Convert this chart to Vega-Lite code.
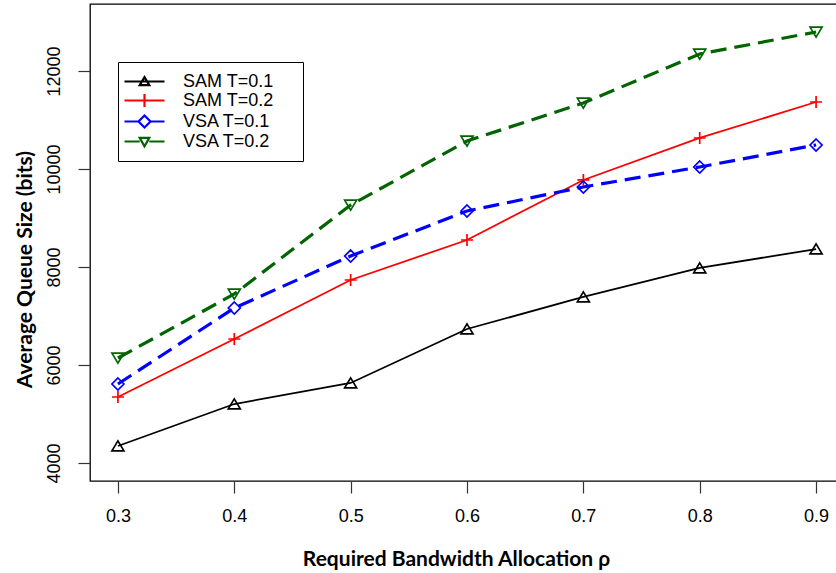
{
  "$schema": "https://vega.github.io/schema/vega-lite/v6.json",
  "autosize": {"type": "none"},
  "padding": {"left": 90, "top": 4, "right": 0, "bottom": 92},
  "width": 754,
  "height": 477,
  "background": "white",
  "config": {
    "view": {"stroke": "#000000", "strokeWidth": 1.3},
    "font": "Liberation Sans"
  },
  "data": {
    "values": [
      {"rho": 0.3, "q": 4347, "series": "SAM T=0.1"},
      {"rho": 0.4, "q": 5204, "series": "SAM T=0.1"},
      {"rho": 0.5, "q": 5633, "series": "SAM T=0.1"},
      {"rho": 0.6, "q": 6735, "series": "SAM T=0.1"},
      {"rho": 0.7, "q": 7388, "series": "SAM T=0.1"},
      {"rho": 0.8, "q": 7980, "series": "SAM T=0.1"},
      {"rho": 0.9, "q": 8367, "series": "SAM T=0.1"},
      {"rho": 0.3, "q": 5347, "series": "SAM T=0.2"},
      {"rho": 0.4, "q": 6531, "series": "SAM T=0.2"},
      {"rho": 0.5, "q": 7735, "series": "SAM T=0.2"},
      {"rho": 0.6, "q": 8551, "series": "SAM T=0.2"},
      {"rho": 0.7, "q": 9776, "series": "SAM T=0.2"},
      {"rho": 0.8, "q": 10633, "series": "SAM T=0.2"},
      {"rho": 0.9, "q": 11367, "series": "SAM T=0.2"},
      {"rho": 0.3, "q": 5612, "series": "VSA T=0.1"},
      {"rho": 0.4, "q": 7163, "series": "VSA T=0.1"},
      {"rho": 0.5, "q": 8224, "series": "VSA T=0.1"},
      {"rho": 0.6, "q": 9143, "series": "VSA T=0.1"},
      {"rho": 0.7, "q": 9633, "series": "VSA T=0.1"},
      {"rho": 0.8, "q": 10041, "series": "VSA T=0.1"},
      {"rho": 0.9, "q": 10490, "series": "VSA T=0.1"},
      {"rho": 0.3, "q": 6143, "series": "VSA T=0.2"},
      {"rho": 0.4, "q": 7449, "series": "VSA T=0.2"},
      {"rho": 0.5, "q": 9265, "series": "VSA T=0.2"},
      {"rho": 0.6, "q": 10571, "series": "VSA T=0.2"},
      {"rho": 0.7, "q": 11347, "series": "VSA T=0.2"},
      {"rho": 0.8, "q": 12347, "series": "VSA T=0.2"},
      {"rho": 0.9, "q": 12796, "series": "VSA T=0.2"}
    ]
  },
  "encoding": {
    "x": {
      "field": "rho", "type": "quantitative",
      "scale": {"domain": [0.276, 0.924], "nice": false, "zero": false},
      "axis": {
        "values": [0.3, 0.4, 0.5, 0.6, 0.7, 0.8, 0.9], "format": ".1f",
        "domain": false, "grid": false, "tickSize": 12, "tickColor": "#333333", "tickWidth": 1.2,
        "labelFontSize": 18, "labelColor": "#000000", "labelPadding": 14, "labelFont": "Liberation Sans",
        "title": "Required Bandwidth Allocation ρ", "titleFont": "Lato", "titleFontSize": 21, "titleFontWeight": "bold",
        "titleColor": "#000000", "titleX": 366, "titleY": 84, "titleBaseline": "alphabetic", "titleAlign": "center"
      }
    },
    "y": {
      "field": "q", "type": "quantitative",
      "scale": {"domain": [3633, 13367], "nice": false, "zero": false},
      "axis": {
        "values": [4000, 6000, 8000, 10000, 12000], "format": "d",
        "domain": false, "grid": false, "tickSize": 12, "tickColor": "#333333", "tickWidth": 1.2,
        "labelFontSize": 18, "labelColor": "#000000", "labelAngle": -90, "labelPadding": 15, "labelFont": "Liberation Sans",
        "title": "Average Queue Size (bits)", "titleFont": "Lato", "titleFontSize": 21, "titleFontWeight": "bold",
        "titleColor": "#000000", "titleX": -65, "titleY": 265, "titleBaseline": "middle", "titleAlign": "center", "titleAngle": -90
      }
    },
    "color": {
      "field": "series", "type": "nominal",
      "scale": {"domain": ["SAM T=0.1", "SAM T=0.2", "VSA T=0.1", "VSA T=0.2"], "range": ["#000000", "#FF0000", "#0000FF", "#006400"]},
      "legend": {
        "title": "M", "titleOrient": "right", "titleOpacity": 0, "titleFontSize": 18, "titlePadding": 4,
        "orient": "none", "legendX": 28, "legendY": 58,
        "strokeColor": "#000000", "fillColor": "#FFFFFF", "padding": 10,
        "symbolSize": 256, "symbolOffset": 7, "symbolStrokeWidth": 2.2, "symbolOpacity": 1,
        "labelFontSize": 18, "labelFont": "Liberation Sans", "labelColor": "#000000", "labelOffset": 29,
        "rowPadding": -2
      }
    }
  },
  "layer": [
    {
      "transform": [{"filter": "false"}],
      "mark": {"type": "point", "filled": false, "size": 256, "strokeWidth": 2, "opacity": 1},
      "encoding": {
        "shape": {
          "field": "series", "type": "nominal",
          "scale": {
            "domain": ["SAM T=0.1", "SAM T=0.2", "VSA T=0.1", "VSA T=0.2"],
            "range": [
              "M-2.5,0H2.5M0,-0.55L0.6,0.45H-0.6Z",
              "M-2.5,0H2.5M0,-0.8V0.8",
              "M-2.5,0H-0.75M0.75,0H2.5M0,-0.75L0.75,0L0,0.75L-0.75,0Z",
              "M-2.5,0H-0.6M0.6,0H2.5M-0.6,-0.45H0.6L0,0.6Z"
            ]
          },
          "legend": {
            "title": "M", "titleOrient": "right", "titleOpacity": 0, "titleFontSize": 18, "titlePadding": 4,
            "orient": "none", "legendX": 28, "legendY": 58,
            "strokeColor": "#000000", "fillColor": "#FFFFFF", "padding": 10,
            "symbolSize": 256, "symbolOffset": 7, "symbolStrokeWidth": 2.2, "symbolOpacity": 1,
            "labelFontSize": 18, "labelFont": "Liberation Sans", "labelColor": "#000000", "labelOffset": 29,
            "rowPadding": -2
          }
        }
      }
    },
    {
      "transform": [{"filter": "indexof(datum.series, 'SAM') == 0"}],
      "mark": {"type": "line", "strokeWidth": 1.8}
    },
    {
      "transform": [{"filter": "indexof(datum.series, 'VSA') == 0"}],
      "mark": {"type": "line", "strokeWidth": 3.2, "strokeDash": [16, 8]}
    },
    {
      "transform": [{"filter": "datum.series == 'SAM T=0.1'"}],
      "mark": {"type": "point", "filled": false, "size": 144, "strokeWidth": 1.7, "opacity": 1, "shape": "M0,-0.85L1,0.8H-1Z"}
    },
    {
      "transform": [{"filter": "datum.series == 'SAM T=0.2'"}],
      "mark": {"type": "point", "filled": false, "size": 144, "strokeWidth": 1.7, "opacity": 1, "shape": "M-1,0H1M0,-1V1"}
    },
    {
      "transform": [{"filter": "datum.series == 'VSA T=0.1'"}],
      "mark": {"type": "point", "filled": false, "size": 144, "strokeWidth": 1.7, "opacity": 1, "shape": "M0,-1L1,0L0,1L-1,0Z"}
    },
    {
      "transform": [{"filter": "datum.series == 'VSA T=0.2'"}],
      "mark": {"type": "point", "filled": false, "size": 144, "strokeWidth": 1.7, "opacity": 1, "shape": "M-1,-0.8H1L0,0.85Z"}
    }
  ]
}
